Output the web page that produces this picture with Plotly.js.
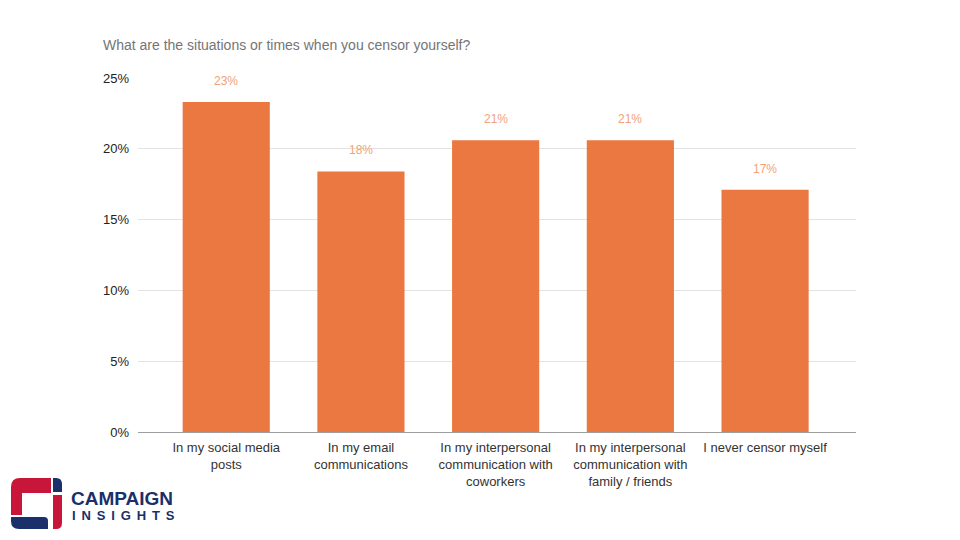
<!DOCTYPE html>
<html>
<head>
<meta charset="utf-8">
<script src="https://cdn.plot.ly/plotly-3.0.1.min.js"></script>
<style>html,body{margin:0;padding:0;background:#fff;}#chart{width:960px;height:540px;}</style>
</head>
<body>
<div id="chart"></div>
<script>
// ---- data ----
var categories = [
  "In my social media<br>posts",
  "In my email<br>communications",
  "In my interpersonal<br>communication with<br>coworkers",
  "In my interpersonal<br>communication with<br>family / friends",
  "I never censor myself"
];
var values = [23.3, 18.4, 20.6, 20.6, 17.1];
var valueLabels = ["23%", "18%", "21%", "21%", "17%"];
var yTickVals = [0, 5, 10, 15, 20, 25];
var yTickText = ["0%", "5%", "10%", "15%", "20%", "25%"];
var chartTitle = "What are the situations or times when you censor yourself?";

// ---- layout geometry ----
var W = 960, H = 540;
var mL = 138, mR = 104, mT = 78, mB = 108;
var pw = W - mL - mR, ph = H - mT - mB;
function px(x) { return (x - mL) / pw; }
function py(y) { return (H - mB - y) / ph; }
function P(x, y) { return px(x).toFixed(5) + "," + py(y).toFixed(5); }

var red = "#C8163A", navy = "#1B2F6B";
var logoShapes = [
  {type: "path", xref: "paper", yref: "paper", fillcolor: red, line: {width: 0},
   path: "M" + P(11,487) + " Q" + P(11,478) + " " + P(20,478) + " L" + P(51,478) + " L" + P(51,493) +
         " L" + P(22,493) + " L" + P(22,515) + " L" + P(11,515) + " Z"},
  {type: "path", xref: "paper", yref: "paper", fillcolor: navy, line: {width: 0},
   path: "M" + P(11,517) + " L" + P(44,517) + " Q" + P(48,517) + " " + P(48,521) + " L" + P(48,529) +
         " L" + P(19,529) + " Q" + P(11,529) + " " + P(11,521) + " Z"},
  {type: "path", xref: "paper", yref: "paper", fillcolor: navy, line: {width: 0},
   path: "M" + P(53,478) + " L" + P(56,478) + " Q" + P(62,478) + " " + P(62,484) + " L" + P(62,492) +
         " L" + P(53,492) + " Z"},
  {type: "path", xref: "paper", yref: "paper", fillcolor: red, line: {width: 0},
   path: "M" + P(53,495) + " L" + P(62,495) + " L" + P(62,523) + " Q" + P(62,529) + " " + P(56,529) +
         " L" + P(53,529) + " Z"}
];

var annotations = categories.map(function (c, i) {
  return {
    x: c, y: values[i], xref: "x", yref: "y",
    text: valueLabels[i], showarrow: false,
    yanchor: "middle", yshift: 21,
    font: {family: "Liberation Sans, Arial, sans-serif", size: 12, color: "#F2A278"}
  };
});
var gap = "\u2005\u2009";
annotations.push({
  xref: "paper", yref: "paper", x: px(69), y: py(498), xanchor: "left", yanchor: "middle",
  text: "<b>CAMPAIGN</b>", showarrow: false,
  font: {family: "Liberation Sans, Arial, sans-serif", size: 19, color: navy}
});
annotations.push({
  xref: "paper", yref: "paper", x: px(70), y: py(515), xanchor: "left", yanchor: "middle",
  text: "<b>" + "INSIGHTS".split("").join(gap) + "</b>", showarrow: false,
  font: {family: "Liberation Sans, Arial, sans-serif", size: 13, color: navy}
});

var trace = {
  type: "bar",
  x: categories,
  y: values,
  width: 0.647,
  marker: {color: "#EB7741"},
  hoverinfo: "skip"
};

var layout = {
  width: W, height: H,
  margin: {l: mL, r: mR, t: mT, b: mB, pad: 0},
  paper_bgcolor: "#ffffff",
  plot_bgcolor: "#ffffff",
  showlegend: false,
  title: {
    text: chartTitle,
    xref: "container", yref: "container",
    x: 103 / W, xanchor: "left",
    y: 1 - 45 / H, yanchor: "middle",
    font: {family: "Liberation Sans, Arial, sans-serif", size: 14, color: "#757575"}
  },
  xaxis: {
    type: "category",
    range: [-0.655, 4.675],
    showgrid: false,
    zeroline: false,
    showline: false,
    ticks: "",
    ticklabelstandoff: 6,
    tickfont: {family: "Liberation Sans, Arial, sans-serif", size: 13, color: "#333333"},
    fixedrange: true
  },
  yaxis: {
    range: [0, 25],
    tickvals: yTickVals,
    ticktext: yTickText,
    showgrid: true,
    gridcolor: "#E3E3E3",
    gridwidth: 1,
    zeroline: true,
    zerolinecolor: "#9E9E9E",
    zerolinewidth: 1,
    showline: false,
    ticks: "",
    ticklabelstandoff: 8,
    tickfont: {family: "Liberation Sans, Arial, sans-serif", size: 13, color: "#222222"},
    fixedrange: true
  },
  shapes: logoShapes,
  annotations: annotations
};

Plotly.newPlot("chart", [trace], layout, {displayModeBar: false, staticPlot: true});
</script>
</body>
</html>
